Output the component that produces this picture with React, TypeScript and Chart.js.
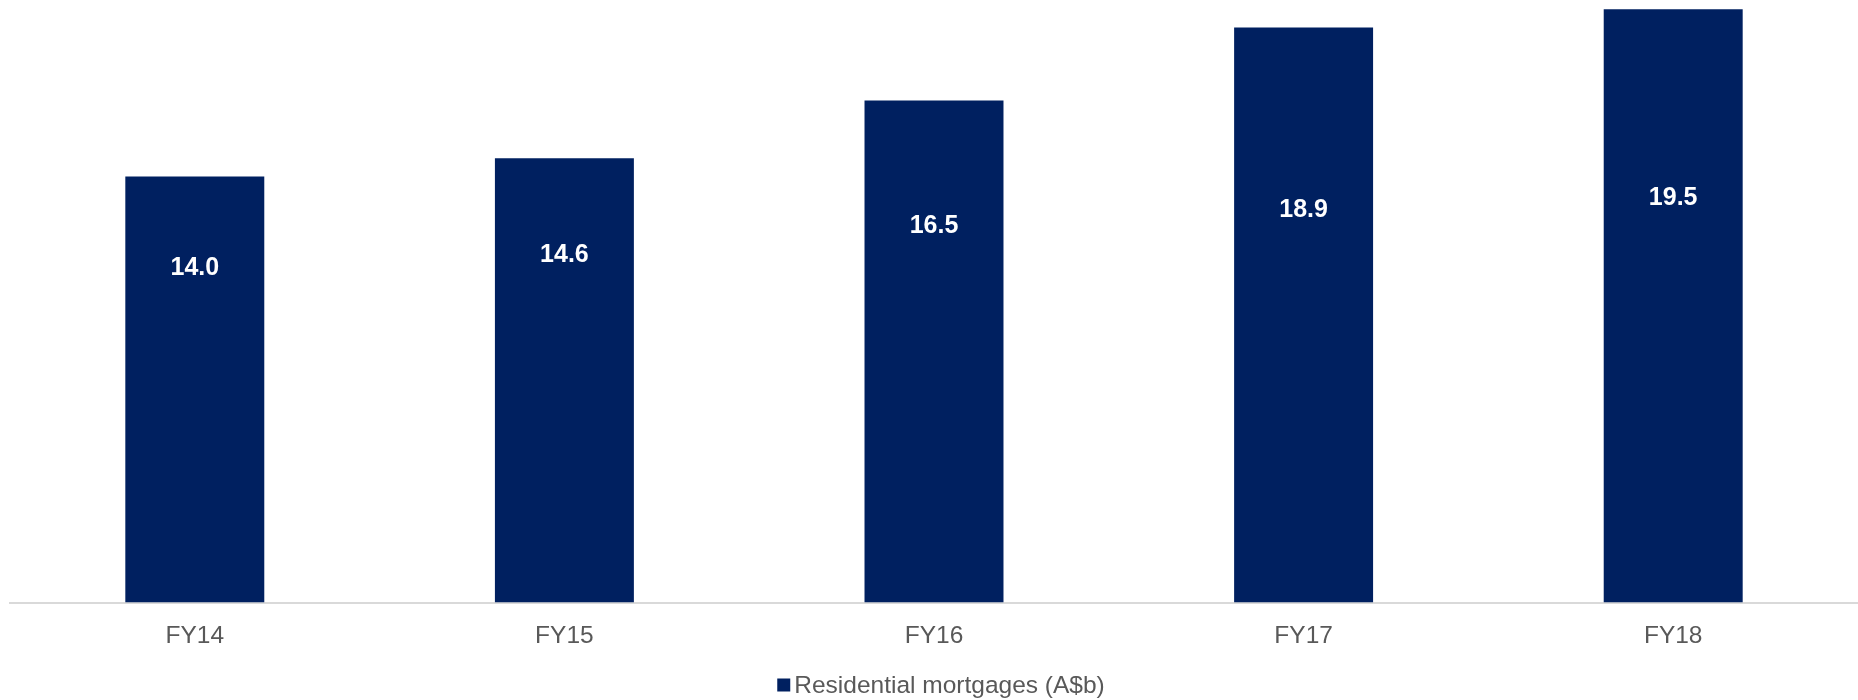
import React, { useEffect, useRef } from "react";
import { Chart, registerables } from "chart.js";

Chart.register(...registerables);

const categories = ["FY14", "FY15", "FY16", "FY17", "FY18"];
const mortgages = [14.0, 14.6, 16.5, 18.9, 19.5];
const seriesName = "Residential mortgages (A$b)";

const FONT = "'Liberation Sans', Arial, Helvetica, sans-serif";
const BAR_COLOR = "#002060";
const TEXT_GRAY = "#595959";
// label depth below each bar top (style, px)
const labelDepth = [92, 97, 126, 183, 189];

const valueLabels = {
  id: "valueLabels",
  afterDatasetsDraw(chart: any) {
    const ctx = chart.ctx;
    const meta = chart.getDatasetMeta(0);
    ctx.save();
    ctx.fillStyle = "#ffffff";
    ctx.font = `bold 25px ${FONT}`;
    ctx.textAlign = "center";
    ctx.textBaseline = "middle";
    meta.data.forEach((bar: any, i: number) => {
      const v = chart.data.datasets[0].data[i] as number;
      ctx.fillText(v.toFixed(1), bar.x, bar.y + labelDepth[i]);
    });
    ctx.restore();
  },
};

const bottomLegend = {
  id: "bottomLegend",
  afterDraw(chart: any) {
    const ctx = chart.ctx;
    const ds = chart.data.datasets[0];
    const area = chart.chartArea;
    ctx.save();
    ctx.font = `24.5px ${FONT}`;
    const tw = ctx.measureText(ds.label).width;
    const box = 13;
    const gap = 4;
    const total = box + gap + tw;
    const cx = (area.left + area.right) / 2 + 7;
    const cy = chart.height - 15;
    const x0 = cx - total / 2;
    ctx.fillStyle = ds.backgroundColor;
    ctx.fillRect(x0, cy - box / 2, box, box);
    ctx.fillStyle = TEXT_GRAY;
    ctx.textAlign = "left";
    ctx.textBaseline = "middle";
    ctx.fillText(ds.label, x0 + box + gap, cy + 1);
    ctx.restore();
  },
};

export default function App() {
  const ref = useRef<HTMLCanvasElement | null>(null);
  useEffect(() => {
    if (!ref.current) return;
    const chart = new Chart(ref.current, {
      type: "bar",
      data: {
        labels: categories,
        datasets: [
          {
            label: seriesName,
            data: mortgages,
            backgroundColor: BAR_COLOR,
            borderWidth: 0,
            barPercentage: 0.376,
            categoryPercentage: 1,
          },
        ],
      },
      options: {
        animation: false,
        responsive: true,
        maintainAspectRatio: false,
        layout: { padding: { left: 10, right: 0, top: 0, bottom: 30 } },
        scales: {
          x: {
            grid: { display: false, drawTicks: false },
            border: { display: true, color: "#D9D9D9", width: 2 },
            ticks: {
              color: TEXT_GRAY,
              font: { family: FONT, size: 24.5 },
              padding: 19,
            },
          },
          y: {
            display: false,
            min: 0,
            max: 19.8,
          },
        },
        plugins: {
          legend: { display: false },
          tooltip: { enabled: false },
        },
      },
      plugins: [valueLabels, bottomLegend],
    });
    return () => chart.destroy();
  }, []);

  return (
    <div style={{ position: "fixed", left: 0, top: 0, width: 1858, height: 700, background: "#fff" }}>
      <canvas ref={ref} />
    </div>
  );
}
